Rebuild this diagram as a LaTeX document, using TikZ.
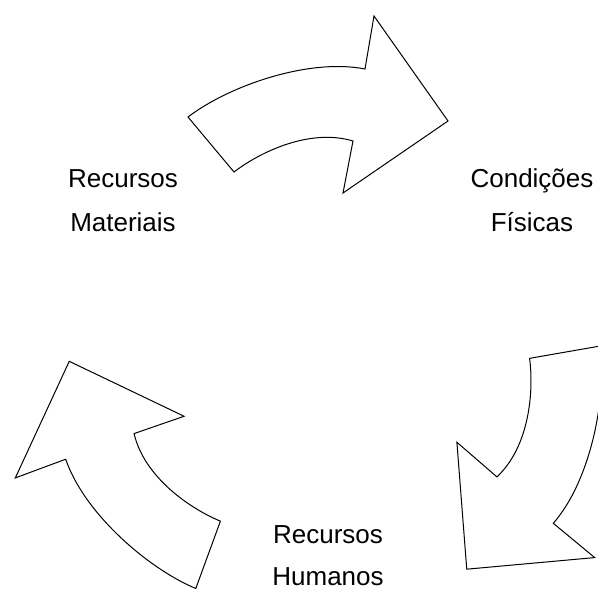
\documentclass[tikz,border=0pt]{standalone}
\usepackage{fontspec}
\setmainfont{Liberation Sans}
\begin{document}
\begin{tikzpicture}[x=1pt,y=-1pt,
  bentarrow/.style={draw=black,fill=white,line width=1pt,line join=miter},
  label/.style={font=\fontsize{26}{31}\selectfont,anchor=base,inner sep=0pt}]
\clip (0,0) rectangle (598,589);
\fill[white] (0,0) rectangle (598,589);
\coordinate (hub) at (328,350.5);
% one curved block arrow, repeated three times around the hub
\foreach \ang/\nm in {0/top,-120/right,-240/left}{
  \begin{scope}[rotate around={\ang:(hub)}]
    \coordinate (\nm-a) at (188,117);
    \coordinate (\nm-b) at (365,69);
    \coordinate (\nm-d) at (374,16);
    \coordinate (\nm-t) at (448,121);
    \coordinate (\nm-e) at (343,193);
    \coordinate (\nm-f) at (353,141);
    \coordinate (\nm-g) at (234,172);
    \draw[bentarrow] (\nm-a) .. controls (230,85) and (310,58) .. (\nm-b)
      -- (\nm-d) -- (\nm-t) -- (\nm-e) -- (\nm-f)
      .. controls (310,128) and (260,152) .. (\nm-g) -- cycle;
  \end{scope}
}
\node[label] (rm1) at (123,187) {Recursos};
\node[label] (rm2) at (123,231) {Materiais};
\node[label] (cf1) at (532,187) {Condições};
\node[label] (cf2) at (532,231) {Físicas};
\node[label] (rh1) at (328,543) {Recursos};
\node[label,text depth=0pt] (rh2) at (328,585) {Humanos};
\end{tikzpicture}
\end{document}
